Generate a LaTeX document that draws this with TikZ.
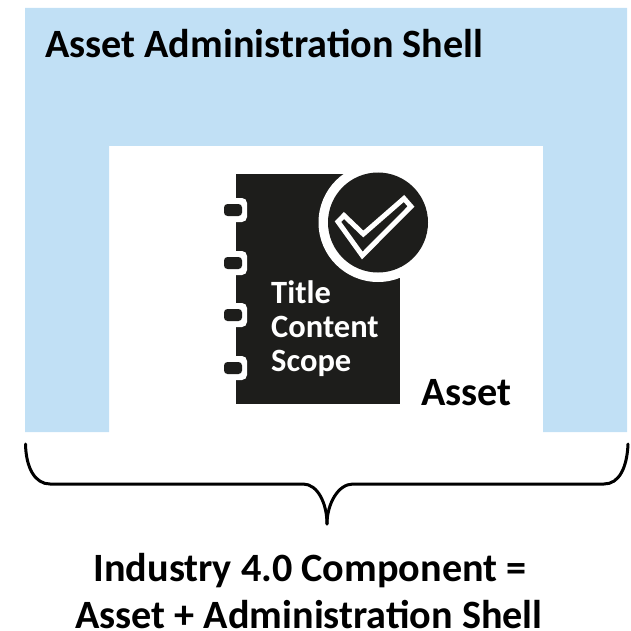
\documentclass[tikz,border=0pt]{standalone}
\usepackage{fontspec}
\setmainfont{Carlito}
\usetikzlibrary{positioning}
\definecolor{shellblue}{HTML}{C1E0F5}
\definecolor{bookblack}{HTML}{1D1D1B}
\tikzset{
    mylabel/.style = {inner sep=0pt,anchor=base west,font=\fontsize{40.2}{40}\selectfont\bfseries,text=black},
    mytitle/.style = {inner sep=0pt,anchor=base,font=\fontsize{40.2}{40}\selectfont\bfseries,text=black},
    mybook/.style = {inner sep=0pt,anchor=base west,font=\fontsize{32.5}{32}\selectfont\bfseries,text=white},
    ringw/.style = {fill=white,rounded corners=5pt},
    ringb/.style = {fill=bookblack,rounded corners=3.5pt},
    edgen/.style = {-,line width=3pt,black,line cap=round}
}
\begin{document}
\begin{tikzpicture}[x=1pt,y=-1pt]
  \useasboundingbox (0,0) rectangle (631,631);
  % shell
  \fill[shellblue] (25,8) -- (627,8) -- (627,432) -- (543,432) -- (543,146) -- (109,146) -- (109,432) -- (25,432) -- cycle;
  % book
  \fill[bookblack] (236,174) rectangle (400,404);
  \foreach \ringy in {210,263,315,368}{
    \fill[ringw] (226,\ringy-12) rectangle (247,\ringy+12);
    \fill[ringb] (224,\ringy-6) rectangle (242,\ringy+6);
  }
  % check mark
  \fill[white] (378,222.5) circle (59.5);
  \fill[bookblack] (378,222.5) circle (50);
  \draw[white,line width=5pt,line join=miter,fill=bookblack] (338,221.7) -- (344,215.5) -- (363.3,234) -- (404,198.5) -- (411,206.5) -- (362.3,255.5) -- cycle;
  % text
  \node[mylabel] (shell) at (45,58) {Asset Administration Shell};
  \node[mybook] (title) at (271,303) {Title};
  \node[mybook] (content) at (271,337) {Content};
  \node[mybook] (scope) at (271,371) {Scope};
  \node[mylabel] (asset) at (421,405) {Asset};
  \node[mytitle] (comp) at (310,581.5) {Industry 4.0 Component =};
  \node[mytitle] (sum) at (309,628) {Asset + Administration Shell};
  % brace
  \draw[edgen] (25.5,444) .. controls (26,468) and (35,484) .. (50,484) -- (303,484) .. controls (318,484) and (327,504) .. (327,524);
  \draw[edgen] (628,444) .. controls (627,468) and (619,484) .. (604,484) -- (353,484) .. controls (338,484) and (327,504) .. (327,524);
\end{tikzpicture}
\end{document}
